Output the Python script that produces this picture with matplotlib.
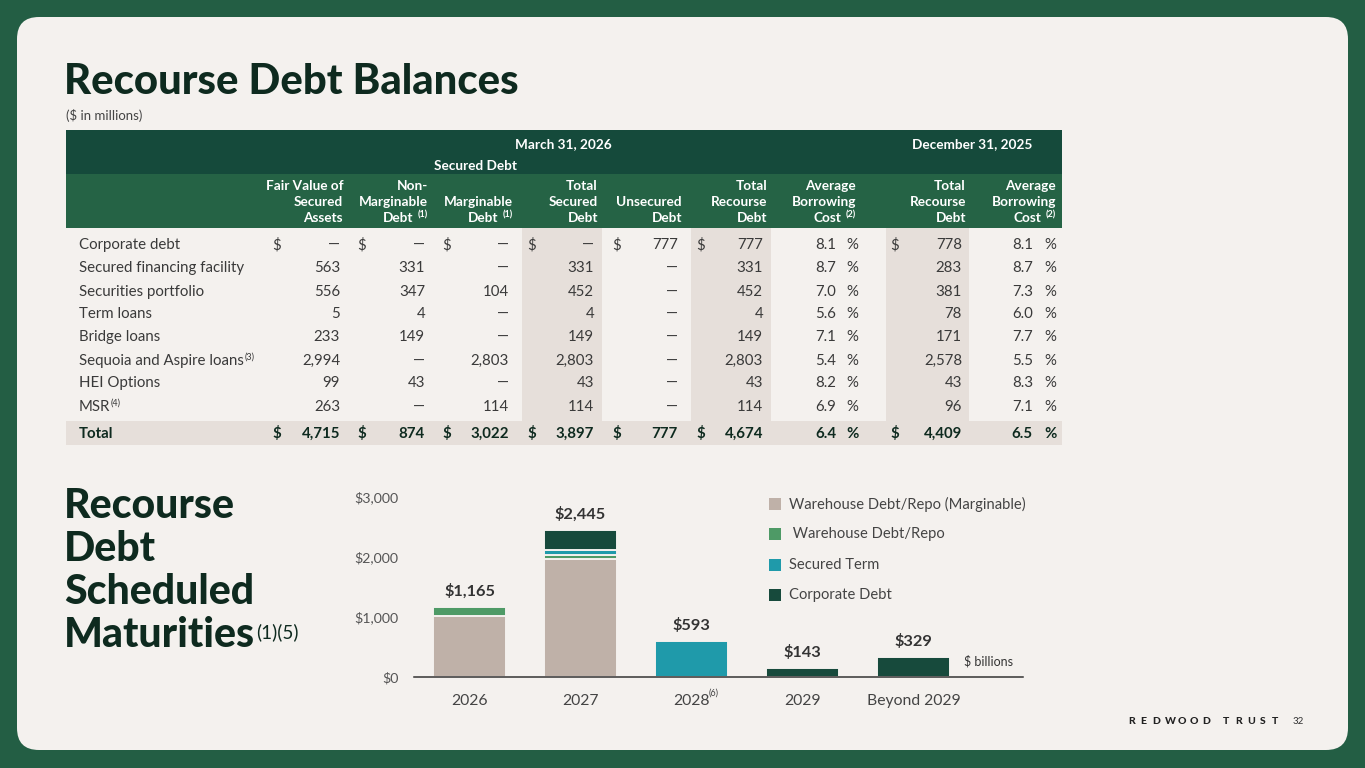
import matplotlib
matplotlib.use("Agg")
import matplotlib.pyplot as plt
from matplotlib.patches import FancyBboxPatch, Rectangle

# ---------------- data ----------------
row_labels = ["Corporate debt", "Secured financing facility", "Securities portfolio",
              "Term loans", "Bridge loans", "Sequoia and Aspire loans", "HEI Options", "MSR"]
row_notes = ["", "", "", "", "", "(3)", "", "(4)"]
fair_value = [None, 563, 556, 5, 233, 2994, 99, 263]
non_marginable = [None, 331, 347, 4, 149, None, 43, None]
marginable = [None, None, 104, None, None, 2803, None, 114]
total_secured = [None, 331, 452, 4, 149, 2803, 43, 114]
unsecured = [777, None, None, None, None, None, None, None]
total_recourse = [777, 331, 452, 4, 149, 2803, 43, 114]
avg_cost = [8.1, 8.7, 7.0, 5.6, 7.1, 5.4, 8.2, 6.9]
dec_total_recourse = [778, 283, 381, 78, 171, 2578, 43, 96]
dec_avg_cost = [8.1, 8.7, 7.3, 6.0, 7.7, 5.5, 8.3, 7.1]
total_row = [4715, 874, 3022, 3897, 777, 4674, 6.4, 4409, 6.5]

header_cols = [["Fair Value of", "Secured", "Assets"],
               ["Non-", "Marginable", "Debt"],
               ["", "Marginable", "Debt"],
               ["Total", "Secured", "Debt"],
               ["", "Unsecured", "Debt"],
               ["Total", "Recourse", "Debt"],
               ["Average", "Borrowing", "Cost"],
               ["Total", "Recourse", "Debt"],
               ["Average", "Borrowing", "Cost"]]
header_notes = ["", "(1)", "(1)", "", "", "", "(2)", "", "(2)"]

years = ["2026", "2027", "2028", "2029", "Beyond 2029"]
year_notes = ["", "", "(6)", "", ""]
wh_marginable = [1020, 1965, 0, 0, 0]
wh_repo = [145, 65, 0, 0, 0]
secured_term = [0, 80, 593, 0, 0]
corporate = [0, 335, 0, 143, 329]
bar_totals = [1165, 2445, 593, 143, 329]
series_names = ["Warehouse Debt/Repo (Marginable)", " Warehouse Debt/Repo",
                "Secured Term", "Corporate Debt"]
y_ticks = [0, 1000, 2000, 3000]

# ---------------- style ----------------
OUTER = "#235e44"
CARD = "#f4f1ee"
HDR1 = "#154a3b"
HDR2 = "#256345"
SHADE = "#e6dfda"
INK = "#0e2a1f"
TXT = "#3a3a3a"
C_BEIGE = "#bfb1a8"
C_GREEN = "#4e9a66"
C_TEAL = "#1f9aaa"
C_DARK = "#174a3c"
FONT = "Lato"

W, H = 1365, 768
fig = plt.figure(figsize=(W / 100, H / 100), dpi=100)
fig.patch.set_facecolor(OUTER)
ax0 = fig.add_axes([0, 0, 1, 1])
ax0.set_xlim(0, W)
ax0.set_ylim(H, 0)
ax0.axis("off")

ax0.add_patch(FancyBboxPatch((17, 17), 1331, 733, boxstyle="round,pad=0,rounding_size=22",
                             facecolor=CARD, edgecolor="none"))

renderer = fig.canvas.get_renderer()

def txt(x, y, s, **kw):
    kw.setdefault("family", FONT)
    kw.setdefault("va", "center")
    return ax0.text(x, y, s, **kw)

def right_edge(t):
    bb = t.get_window_extent(renderer=renderer)
    inv = ax0.transData.inverted()
    return inv.transform((bb.x1, bb.y1))[0]

# ---------------- titles ----------------
txt(64, 82, "Recourse Debt Balances", fontsize=30.2, fontweight="black", color=INK)
txt(66, 115, "($ in millions)", fontsize=9.5, color="#444444")

sub_lines = ["Recourse", "Debt", "Scheduled", "Maturities"]
for i, s in enumerate(sub_lines):
    t = txt(64, 506 + i * 43, s, fontsize=29.5, fontweight="black", color=INK)
re_ = right_edge(t)
txt(re_ + 1, 632, "(1)(5)", fontsize=13.5, color=INK)

# ---------------- table ----------------
TL, TR = 66, 1062
ax0.add_patch(Rectangle((TL, 130), TR - TL, 44, facecolor=HDR1, edgecolor="none"))
ax0.add_patch(Rectangle((TL, 174), TR - TL, 54, facecolor=HDR2, edgecolor="none"))
for (x0, x1) in [(522, 602), (691, 771), (886, 969)]:
    ax0.add_patch(Rectangle((x0, 228), x1 - x0, 193, facecolor=SHADE, edgecolor="none"))
ax0.add_patch(Rectangle((TL, 421), TR - TL, 24, facecolor=SHADE, edgecolor="none"))

txt(563, 144, "March 31, 2026", fontsize=9.8, fontweight="bold", color="white", ha="center")
txt(972, 144, "December 31, 2025", fontsize=9.8, fontweight="bold", color="white", ha="center")
txt(476, 166, "Secured Debt", fontsize=9.8, fontweight="bold", color="white", ha="center")

hdr_right = [343, 428, 513, 598, 682, 767, 856, 966, 1056]
for xr, lines, note in zip(hdr_right, header_cols, header_notes):
    for j, s in enumerate(lines):
        if not s:
            continue
        xx = xr
        if j == 2 and note:
            txt(xr, 215, note, fontsize=6.5, fontweight="bold", color="white", ha="right")
            xx = xr - 15
        txt(xx, 186 + j * 16.2, s, fontsize=9.8, fontweight="bold", color="white", ha="right")

val_right = [340, 425, 509, 594, 678, 763, 836, 962, 1033]
dollar_x = [272, 357, 442, 527, 612, 696, None, 890, None]
pct_x = {6: 846, 8: 1044}
row_y = [245, 268, 292, 314, 337, 361, 383, 407]
DASH = "\u2014"

def fmt(v, pct=False):
    if v is None:
        return DASH
    if pct:
        return f"{v:.1f}"
    return f"{v:,}"

cols = [fair_value, non_marginable, marginable, total_secured, unsecured,
        total_recourse, avg_cost, dec_total_recourse, dec_avg_cost]

FS = 10.8
for r, (lab, note) in enumerate(zip(row_labels, row_notes)):
    y = row_y[r]
    t = txt(79, y, lab, fontsize=FS, color=TXT)
    if note:
        txt(right_edge(t) + 0.5, y - 4, note, fontsize=6.5, color=TXT)
    for c, col in enumerate(cols):
        pct = c in pct_x
        txt(val_right[c], y, fmt(col[r], pct), fontsize=FS, color=TXT, ha="right")
        if pct:
            txt(pct_x[c], y, "%", fontsize=FS, color=TXT)
        if r == 0 and dollar_x[c] is not None:
            txt(dollar_x[c], y, "$", fontsize=FS, color=TXT)

ty = 434
txt(79, ty, "Total", fontsize=FS, fontweight="bold", color=INK)
for c, v in enumerate(total_row):
    pct = c in pct_x
    txt(val_right[c], ty, fmt(v, pct), fontsize=FS, fontweight="bold", color=INK, ha="right")
    if pct:
        txt(pct_x[c], ty, "%", fontsize=FS, fontweight="bold", color=INK)
    if dollar_x[c] is not None:
        txt(dollar_x[c], ty, "$", fontsize=FS, fontweight="bold", color=INK)

# ---------------- bar chart ----------------
axL, axR, axB, axT = 414, 1023, 677, 497
ax = fig.add_axes([axL / W, (H - axB) / H, (axR - axL) / W, (axB - axT) / H])
ax.set_facecolor("none")
x = list(range(len(years)))
bw = 0.66
bottoms = [0] * len(years)
colors = [C_BEIGE, C_GREEN, C_TEAL, C_DARK]
for vals, colr, name in zip([wh_marginable, wh_repo, secured_term, corporate], colors, series_names):
    lws = [1.4 if v > 0 else 0 for v in vals]
    ax.bar(x, vals, bw, bottom=bottoms, color=colr, edgecolor=CARD, linewidth=lws, label=name, zorder=2)
    bottoms = [b + v for b, v in zip(bottoms, vals)]

for xi, tot in zip(x, bar_totals):
    ax.annotate(f"${tot:,}", (xi, tot), xytext=(0, 11.5), textcoords="offset points",
                ha="center", va="center", fontsize=11.8, fontweight="bold", color="#333333",
                family=FONT, clip_on=False)

ax.set_xlim(-0.5, 4.985)
ax.set_ylim(0, 3000)
ax.set_yticks(y_ticks)
ax.set_yticklabels([f"${v:,}" for v in y_ticks], family=FONT, fontsize=10.2, color="#555555")
ax.set_xticks(x)
ax.set_xticklabels(years, family=FONT, fontsize=11.3, color="#444444")
ax.tick_params(axis="both", length=0)
ax.tick_params(axis="y", pad=11)
ax.tick_params(axis="x", pad=12)
for s in ["top", "right", "left"]:
    ax.spines[s].set_visible(False)
ax.spines["bottom"].set_color("#333333")
ax.spines["bottom"].set_linewidth(1.1)
ax.spines["bottom"].set_zorder(3)

txt(709, 693, year_notes[2], fontsize=6.5, color="#444444")
txt(964, 661, "$ billions", fontsize=9, color="#333333")

# legend (manual)
leg_y = [504, 534, 565, 595]
for yy, colr, name in zip(leg_y, colors, series_names):
    ax0.add_patch(Rectangle((769, yy - 6), 12, 12, facecolor=colr, edgecolor="none"))
    txt(789, yy, name, fontsize=10.6, color="#444444")

# footer: widely letter-spaced brand
fx = 1128
for ch in "REDWOOD TRUST":
    if ch == " ":
        fx += 9
        continue
    txt(fx, 721, ch, fontsize=7.5, fontweight="black", color="#222222", ha="left")
    fx += 12.3
txt(1293, 721, "32", fontsize=7, color="#333333")

fig.savefig("out.png", dpi=100, facecolor=OUTER)
